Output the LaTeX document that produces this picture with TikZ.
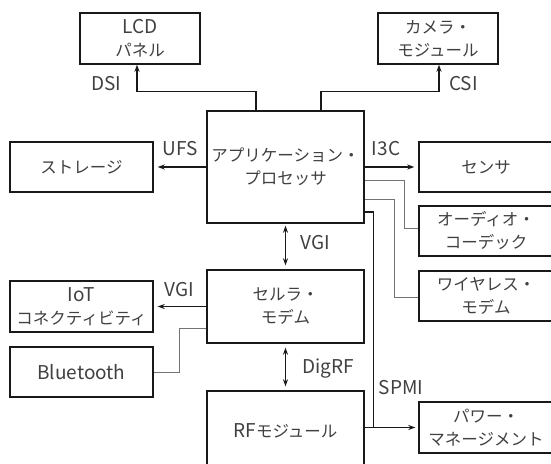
\documentclass[tikz,border=0pt]{standalone}
\usepackage{fontspec}
\setmainfont{Noto Sans CJK JP}
\usetikzlibrary{arrows.meta,calc}
\newcommand\latn[1]{{\fontsize{19}{22}\selectfont #1}}
\begin{document}
\begin{tikzpicture}[x=1pt,y=-1pt,
  box/.style={draw=black!90,line width=1.4pt,align=center,font=\fontsize{16.5}{23}\selectfont,text=black!75,inner sep=0pt},
  lbl/.style={font=\fontsize{19}{22}\selectfont,text=black!75,inner sep=0pt},
  conn/.style={draw=black!90,line width=1.2pt},
  thinline/.style={draw=black!55,line width=0.8pt},
  arr/.style={-{Stealth[length=7pt,width=5pt]}},
  darr/.style={{Stealth[length=7pt,width=5pt]}-{Stealth[length=7pt,width=5pt]}}]
\useasboundingbox (0,0) rectangle (551,463);
% boxes
\node[box,minimum width=120pt,minimum height=51pt] (lcd) at (140,38.5) {\latn{LCD}\\パネル};
\node[box,minimum width=120pt,minimum height=51pt] (cam) at (438,38.5) {カメラ・\\モジュール};
\node[box,minimum width=143pt,minimum height=50pt] (st) at (81.5,167) {ストレージ};
\node[box,minimum width=157pt,minimum height=112pt] (ap) at (285.5,167) {アプリケーション・\\プロセッサ};
\node[box,minimum width=134pt,minimum height=50pt] (sen) at (486,167) {センサ};
\node[box,minimum width=134pt,minimum height=50pt] (aud) at (486,231) {オーディオ・\\コーデック};
\node[box,minimum width=134pt,minimum height=50pt] (wl) at (486,296) {ワイヤレス・\\モデム};
\node[box,minimum width=134pt,minimum height=51pt] (pw) at (486,427.5) {パワー・\\マネージメント};
\node[box,minimum width=143pt,minimum height=51pt] (iot) at (81.5,306.5) {\latn{IoT}\\コネクティビティ};
\node[box,minimum width=143pt,minimum height=50pt] (bt) at (81.5,372) {\latn{Bluetooth}};
\node[box,minimum width=157pt,minimum height=73pt] (cell) at (285.5,306.5) {セルラ・\\モデム};
\node[box,minimum width=157pt,minimum height=79pt] (rf) at (285.5,430.5) {\latn{RF}モジュール};
% connectors
\draw[conn,arr] ([xshift=-29.5pt]ap.north) -- ++(0,-19) -| ([xshift=-3pt]lcd.south);
\draw[conn,arr] ([xshift=35.5pt]ap.north) -- ++(0,-19) -| ([xshift=1pt]cam.south);
\draw[conn,arr,shorten >=4pt] (ap.west) -- (st.east);
\draw[conn,arr,shorten >=4pt] (ap.east) -- (sen.west);
\draw[thinline] ([yshift=-13pt]ap.east) -- ++(40,0) |- ([yshift=3pt]aud.west);
\draw[thinline] ([yshift=-32pt]ap.east) -- ++(30,0) |- ([yshift=-1pt]wl.west);
\draw[conn] ([yshift=-45pt]ap.east) -| ([xshift=9pt]rf.east |- pw.west);
\draw[conn,arr,shorten >=3pt] (rf.east |- pw.west) -- (pw.west);
\draw[conn,darr,shorten <=2pt,shorten >=4pt] (ap.south) -- (cell.north);
\draw[conn,darr,shorten <=4pt,shorten >=4pt] (cell.south) -- (rf.north);
\draw[conn,arr,shorten >=4pt] (cell.west) -- (iot.east);
\draw[thinline] ([yshift=-21.5pt]cell.west) -- ++(-27,0) |- (bt.east);
% labels
\node[lbl] (ldsi) at (106,84) {DSI};
\node[lbl] (lcsi) at (463.5,84) {CSI};
\node[lbl] (lufs) at (180,149) {UFS};
\node[lbl] (li3c) at (386,149) {I3C};
\node[lbl] (lvgia) at (315,243) {VGI};
\node[lbl] (lvgib) at (179,290) {VGI};
\node[lbl] (ldig) at (328,368.5) {DigRF};
\node[lbl] (lspmi) at (401,387.5) {SPMI};
\end{tikzpicture}
\end{document}
